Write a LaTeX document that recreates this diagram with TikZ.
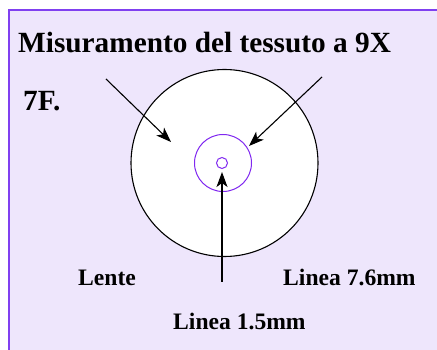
\documentclass[tikz,border=0pt]{standalone}
\usepackage{fontspec}
\setmainfont{Liberation Serif}
\usetikzlibrary{arrows.meta}
\definecolor{panelfill}{RGB}{238,230,252}
\definecolor{panelborder}{RGB}{128,64,240}
\definecolor{ringcol}{RGB}{128,40,240}
\tikzset{
  big/.style={font=\fontsize{29.3}{34}\selectfont\bfseries, inner sep=0pt, anchor=base west},
  lbl/.style={font=\fontsize{23.6}{28}\selectfont\bfseries, inner sep=0pt, anchor=base west},
  pointer/.style={draw=black, line width=1.1pt, -{Stealth[length=15pt, width=11pt, inset=4pt]}},
  ring/.style={circle, draw=ringcol, line width=1pt, inner sep=0pt}
}
\begin{document}
\begin{tikzpicture}[x=1pt, y=-1pt]
\useasboundingbox (0,0) rectangle (437,350);
\fill[white] (0,0) rectangle (437,350);
\begin{scope}
\clip (0,0) rectangle (437,350);
\draw[panelborder, fill=panelfill, line width=2pt] (9,10) rectangle (460,370);
\end{scope}
\node[big] (title) at (18,53) {Misuramento del tessuto a 9X};
\node[big] (sev) at (23,111) {7F.};
\node[circle, draw=black, fill=white, line width=1.1pt, minimum size=187pt, inner sep=0pt] (lens) at (224.5,163) {};
\node[ring, minimum size=57pt] (inner) at (223,163) {};
\node[ring, minimum size=11pt] (dot) at (222,163) {};
\coordinate (a1) at (106,79);
\coordinate (t1) at (171,142);
\coordinate (a2) at (322,77);
\coordinate (t2) at (249,146);
\coordinate (a3) at (222,282);
\coordinate (t3) at (222,172);
\draw[pointer] (a1) -- (t1);
\draw[pointer] (a2) -- (t2);
\draw[pointer] (a3) -- (t3);
\node[lbl] (lente) at (78,286) {Lente};
\node[lbl] (l76) at (283,286) {Linea 7.6mm};
\node[lbl] (l15) at (173,330) {Linea 1.5mm};
\end{tikzpicture}
\end{document}
